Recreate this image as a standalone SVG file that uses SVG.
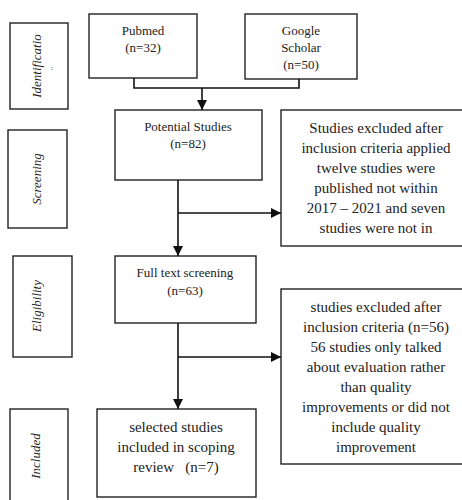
<svg xmlns="http://www.w3.org/2000/svg" width="462" height="500" viewBox="0 0 462 500">
<style>
.box{fill:#fff;stroke:#222;stroke-width:1.4}
.t{font-family:'Liberation Serif','Times New Roman','DejaVu Serif',Times,serif;fill:#222;text-anchor:middle}
.s{font-size:13px}
.b{font-size:15px}
.ph{font-family:'Liberation Serif','Times New Roman','DejaVu Serif',Times,serif;font-style:italic;font-size:13px;fill:#222;text-anchor:middle}
.ln{fill:none;stroke:#111;stroke-width:1.6}
</style>
<defs>
<marker id="ah" viewBox="0 0 10 10" refX="10" refY="5" markerWidth="10" markerHeight="10" markerUnits="userSpaceOnUse" orient="auto">
<path d="M0,0 L10,5 L0,10 Z" fill="#111"/>
</marker>
</defs>
<rect width="462" height="500" fill="#fff"/>
<g id="phase-identification">
<rect class="box" x="10" y="23" width="58" height="86"/>
<text class="ph" transform="translate(41,66) rotate(-90)">Identificatio</text>
<text class="t" x="52" y="70" style="font-size:7px">:</text>
</g>
<g id="phase-screening">
<rect class="box" x="8" y="130" width="59" height="98"/>
<text class="ph" transform="translate(41,179) rotate(-90)">Screening</text>
</g>
<g id="phase-eligibility">
<rect class="box" x="13" y="256" width="59" height="101"/>
<text class="ph" transform="translate(41,306) rotate(-90)">Eligibility</text>
</g>
<g id="phase-included">
<rect class="box" x="10" y="409" width="58" height="100"/>
<text class="ph" transform="translate(40,456) rotate(-90)">Included</text>
</g>
<g id="pubmed">
<rect class="box" x="89" y="14" width="108" height="64"/>
<text class="t s" x="143" y="35">Pubmed</text>
<text class="t s" x="143" y="52">(n=32)</text>
</g>
<g id="google-scholar">
<rect class="box" x="245" y="14" width="112" height="65"/>
<text class="t s" x="301" y="35">Google</text>
<text class="t s" x="301" y="52">Scholar</text>
<text class="t s" x="301" y="69">(n=50)</text>
</g>
<g id="potential-studies">
<rect class="box" x="115" y="110" width="147" height="70"/>
<text class="t s" x="188" y="131">Potential Studies</text>
<text class="t s" x="188" y="148">(n=82)</text>
</g>
<g id="excluded-1">
<rect class="box" x="281" y="110" width="190" height="136"/>
<text class="t b" x="376" y="133">Studies excluded after</text>
<text class="t b" x="376" y="153">inclusion criteria applied</text>
<text class="t b" x="376" y="173">twelve studies were</text>
<text class="t b" x="376" y="193">published not within</text>
<text class="t b" x="376" y="213">2017 – 2021 and seven</text>
<text class="t b" x="376" y="233">studies were not in</text>
</g>
<g id="full-text">
<rect class="box" x="115" y="256" width="141" height="67"/>
<text class="t s" x="185" y="277">Full text screening</text>
<text class="t s" x="185" y="295">(n=63)</text>
</g>
<g id="excluded-2">
<rect class="box" x="281" y="289" width="190" height="175"/>
<text class="t b" x="376" y="312">studies excluded after</text>
<text class="t b" x="376" y="332">inclusion criteria (n=56)</text>
<text class="t b" x="376" y="352">56 studies only talked</text>
<text class="t b" x="376" y="372">about evaluation rather</text>
<text class="t b" x="376" y="392">than quality</text>
<text class="t b" x="376" y="412">improvements or did not</text>
<text class="t b" x="376" y="432">include quality</text>
<text class="t b" x="376" y="452">improvement</text>
</g>
<g id="selected">
<rect class="box" x="97" y="409" width="159" height="88"/>
<text class="t b" x="176" y="432">selected studies</text>
<text class="t b" x="176" y="452">included in scoping</text>
<text class="t b" x="176" y="472" xml:space="preserve">review   (n=7)</text>
</g>
<g id="connectors">
<path class="ln" d="M134,78 V88 H299 V79"/>
<path class="ln" d="M202,88 V110" marker-end="url(#ah)"/>
<path class="ln" d="M178,180 V256" marker-end="url(#ah)"/>
<path class="ln" d="M178,213 H281" marker-end="url(#ah)"/>
<path class="ln" d="M178,323 V409" marker-end="url(#ah)"/>
<path class="ln" d="M178,357 H281" marker-end="url(#ah)"/>
</g>
</svg>
